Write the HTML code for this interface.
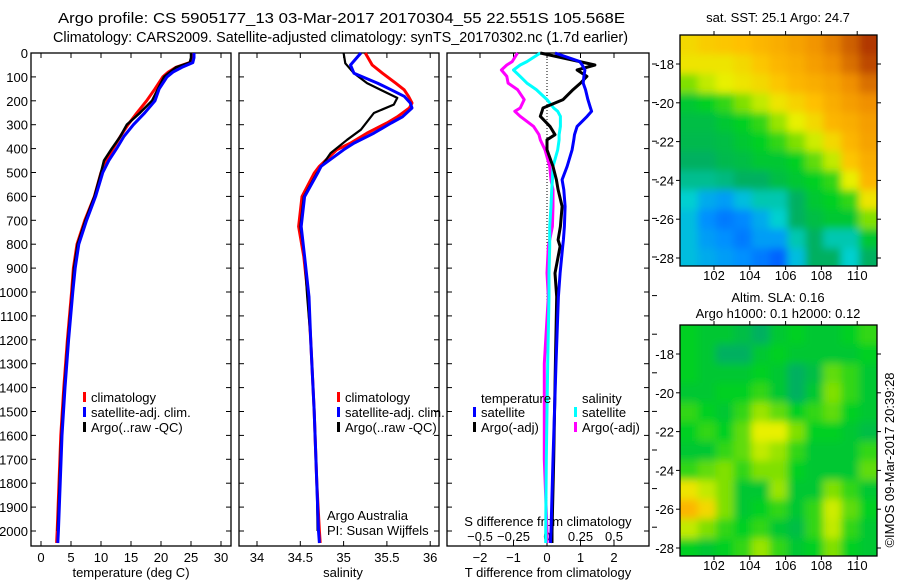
<!DOCTYPE html>
<html><head><meta charset="utf-8"><style>
html,body{margin:0;padding:0;background:#fff;}
svg{display:block;font-family:"Liberation Sans",sans-serif;}
text{font-size:13px;fill:#000;}
</style></head><body>
<svg id="s" width="900" height="580" viewBox="0 0 900 580" xmlns="http://www.w3.org/2000/svg">
<rect width="900" height="580" fill="#fff"/>
<defs>
<clipPath id="c1"><rect x="680" y="35" width="197" height="231"/></clipPath>
<clipPath id="c2"><rect x="680" y="325" width="197" height="231"/></clipPath>
<filter id="bl" x="-5%" y="-5%" width="110%" height="110%"><feGaussianBlur stdDeviation="4"/></filter>
</defs>
<text x="58" y="23" textLength="567" lengthAdjust="spacingAndGlyphs" style="font-size:15px">Argo profile: CS 5905177_13 03-Mar-2017 20170304_55 22.551S 105.568E</text>
<text x="53" y="42" textLength="575" lengthAdjust="spacingAndGlyphs" style="font-size:15px">Climatology: CARS2009. Satellite-adjusted climatology: synTS_20170302.nc (1.7d earlier)</text>
<g id="g"></g>
</svg>
<script>
// ---- data ----
const depths=[0,20,40,60,80,100,150,200,250,300,350,400,450,500,600,700,800,900,1000,1200,1400,1600,1800,2000,2050];
const tempClim=[25.2,25.2,24.8,22.5,21.2,20.3,19,17.6,16,14.5,13.2,12,10.8,10,8.9,7.3,6,5.4,5.1,4.4,3.8,3.3,3.0,2.7,2.6];
const tempSat=[25.5,25.5,25.3,23.5,22,21,19.7,19,17.3,15.4,13.8,12.6,11.3,10.3,9.1,7.6,6.3,5.7,5.3,4.6,4.0,3.5,3.2,2.9,2.8];
const tempArgo=[25,25,24.8,22.5,21.5,20.5,19.5,18.5,16.5,14.3,13.2,11.8,10.5,10,8.9,7.4,6.1,5.5,5.2,4.5,3.9,3.4,3.1,2.8,2.8];
const salDepths=[0,50,85,126,154,181,209,230,267,293,335,377,405,474,503,601,726,852,1020,1200,1500,1800,2000,2050];
const salClim=[35.25,35.33,35.45,35.6,35.70,35.75,35.79,35.76,35.62,35.5,35.27,35.08,34.92,34.72,34.66,34.52,34.48,34.54,34.59,34.62,34.66,34.69,34.72,34.73];
const salSat=[35.20,35.08,35.12,35.39,35.55,35.70,35.77,35.79,35.68,35.55,35.35,35.12,35.0,34.74,34.7,34.55,34.51,34.55,34.60,34.62,34.66,34.69,34.71,34.72];
const salArgoDepths=[0,43,85,126,167,188,216,251,321,363,419,503,601,726,852,1020,1200,1500,1800,2000];
const salArgo=[35.0,35.02,35.12,35.27,35.50,35.62,35.58,35.35,35.20,35.04,34.85,34.69,34.54,34.50,34.55,34.58,34.62,34.66,34.69,34.70];
const diffDepths=[0,36,50,71,98,126,153,195,230,244,265,307,342,363,405,475,530,572,642,726,782,809,921,1020,1300,1700,2000,2050];
const tDiffSat=[0.24,0.98,1.05,1.13,1.1,1.08,1.15,1.22,1.3,1.33,1.2,0.9,0.82,0.8,0.75,0.6,0.45,0.5,0.54,0.52,0.49,0.47,0.39,0.34,0.27,0.18,0.12,0.1];
const tDiffArgo=[-0.2,0.98,1.43,0.9,1.19,1.0,0.78,0.48,-0.12,-0.15,-0.2,0.09,0.24,0.0,0.0,0.18,0.28,0.33,0.45,0.4,0.33,0.39,0.24,0.29,0.25,0.2,0.15,0.15];
const sDiffSat=[-0.05,-0.15,-0.2,-0.25,-0.2,-0.15,-0.08,0.0,0.05,0.08,0.1,0.1,0.09,0.09,0.08,0.045,0.04,0.035,0.03,0.02,0.02,0.02,0.015,0.015,0.005,-0.005,-0.01,-0.01];
const sDiffArgo=[-0.22,-0.26,-0.3,-0.34,-0.3,-0.29,-0.22,-0.17,-0.2,-0.24,-0.2,-0.1,-0.06,-0.05,-0.015,0.02,0.03,0.045,0.045,0.04,0.02,0.01,0.0,0.01,-0.02,-0.02,0.0,0.0];
const depthTicks=[0,100,200,300,400,500,600,700,800,900,1000,1100,1200,1300,1400,1500,1600,1700,1800,1900,2000];
const tempTicks=[0,5,10,15,20,25,30];
const salTicks=[34,34.5,35,35.5,36];
const tDiffTicks=[-2,-1,0,1,2];
const sDiffTicks=[-0.5,-0.25,0,0.25,0.5];
const lonTicks=[102,104,106,108,110];
const latTicks=[18,20,22,24,26,28];
const lonCells=[100.1,101.1,102.1,103.1,104.1,105.1,106.1,107.1,108.1,109.1,110.1];
const latCells=[16.5,17.5,18.5,19.5,20.5,21.5,22.5,23.5,24.5,25.5,26.5,27.5];
const sstGrid=[
[.72,.74,.75,.76,.78,.8,.82,.85,.88,.92,.97],
[.7,.7,.7,.72,.75,.78,.8,.83,.86,.9,.95],
[.6,.65,.68,.7,.72,.75,.78,.8,.82,.86,.9],
[.5,.52,.55,.6,.65,.7,.73,.76,.8,.83,.86],
[.48,.48,.5,.52,.55,.62,.68,.72,.78,.8,.83],
[.47,.47,.48,.5,.52,.55,.6,.66,.72,.78,.82],
[.45,.45,.47,.48,.5,.5,.52,.58,.65,.75,.8],
[.42,.42,.43,.45,.45,.48,.5,.52,.55,.68,.78],
[.38,.32,.3,.35,.4,.4,.45,.5,.52,.55,.7],
[.35,.28,.25,.27,.32,.38,.45,.48,.5,.5,.6],
[.35,.3,.28,.25,.3,.3,.4,.45,.4,.4,.5],
[.35,.32,.3,.28,.25,.22,.35,.45,.45,.38,.45]];
const slaGrid=[
[.52,.5,.5,.48,.45,.5,.52,.5,.5,.52,.55],
[.52,.5,.45,.45,.5,.52,.5,.5,.5,.5,.52],
[.52,.5,.5,.5,.52,.5,.45,.48,.58,.55,.5],
[.5,.5,.52,.52,.55,.5,.45,.5,.6,.55,.5],
[.55,.52,.5,.55,.62,.58,.52,.55,.58,.52,.5],
[.52,.55,.52,.58,.68,.68,.6,.52,.52,.5,.48],
[.5,.5,.55,.58,.65,.62,.55,.5,.5,.5,.55],
[.55,.58,.6,.55,.6,.6,.52,.5,.5,.5,.58],
[.7,.65,.6,.5,.5,.62,.5,.5,.6,.55,.5],
[.78,.72,.6,.5,.52,.55,.5,.55,.66,.58,.52],
[.65,.6,.55,.52,.55,.5,.48,.55,.65,.55,.5],
[.52,.5,.52,.55,.62,.55,.5,.52,.6,.52,.5]];

// ---- axes ----
const yD=d=>53+d*0.239;
const xT=t=>41+t*6;
const xS=s=>257+(s-34)*86.6;
const xTd=v=>547+v*33.5;
const xSd=v=>547+v*134;
const xLon=l=>714+(l-102)*17.9;
const yLat1=l=>64+(l-18)*19.4;
const yLat2=l=>354+(l-18)*19.4;

const NS='http://www.w3.org/2000/svg';
const G=document.getElementById('g');
function mk(tag,attrs,parent){const e=document.createElementNS(NS,tag);for(const k in attrs)e.setAttribute(k,attrs[k]);(parent||G).appendChild(e);return e;}
function txt(x,y,s,anchor,name){const e=mk('text',{x:x,y:y,'text-anchor':anchor||'start'});e.textContent=s;


return e;}

const panels=[[31,231],[239,439],[447,649]];
const yTop=53,yBot=546;
panels.forEach((p,i)=>{
 const r=mk('rect',{x:p[0],y:yTop,width:p[1]-p[0],height:yBot-yTop,fill:'none',stroke:'#000','stroke-width':1.3});
 
 
 depthTicks.forEach(d=>{
  mk('line',{x1:p[0],x2:p[0]+5,y1:yD(d),y2:yD(d),stroke:'#000'});
  mk('line',{x1:p[1],x2:p[1]-5,y1:yD(d),y2:yD(d),stroke:'#000'});
 });
});
depthTicks.forEach(d=>{txt(28,yD(d)+5,String(d),'end','y-tick-label');});
for(let k=0;k<13;k++){mk('line',{x1:652,x2:657,y1:64+k*38.6,y2:64+k*38.6,stroke:'#000'});}
function xticks(vals,fx,labY,fmt,name){
 vals.forEach(v=>{const x=fx(v);
  mk('line',{x1:x,x2:x,y1:yBot,y2:yBot-5,stroke:'#000'});
  mk('line',{x1:x,x2:x,y1:yTop,y2:yTop+5,stroke:'#000'});
  if(labY)txt(x,labY,fmt(v),'middle',name);
 });
}
xticks(tempTicks,xT,562,v=>String(v),'temperature-tick-label');
xticks(salTicks,xS,562,v=>String(v),'salinity-tick-label');
xticks(tDiffTicks,xTd,562,v=>v<0?'\u2212'+(-v):String(v),'t-diff-tick-label');
sDiffTicks.forEach(v=>{txt(xSd(v),541,v<0?'\u2212'+(-v):String(v),'middle','s-diff-tick-label');});
txt(131,577,'temperature (deg C)','middle','x-axis-title-temperature');
txt(343,577,'salinity','middle','x-axis-title-salinity');
txt(548,577,'T difference from climatology','middle','x-axis-title-t-diff');
txt(548,526,'S difference from climatology','middle','axis-title-s-diff');
txt(327,520,'Argo Australia','start','credit-argo-australia');
txt(327,535,'PI: Susan Wijffels','start','credit-pi');

const zl=mk('line',{x1:xTd(0),x2:xTd(0),y1:yTop,y2:yBot,stroke:'#000','stroke-dasharray':'1,2'});



function series(ds,vs,fx,color,w,name){
 const pts=ds.map((d,i)=>fx(vs[i]).toFixed(1)+','+yD(d).toFixed(1)).join(' ');
 const e=mk('polyline',{points:pts,fill:'none',stroke:color,'stroke-width':w,'stroke-linejoin':'round'});
 
 
}
series(depths,tempClim,xT,'#f00',3,'temp-climatology-line');
series(depths.slice(0,24),tempArgo.slice(0,24),xT,'#000',2.5,'temp-argo-line');
series(depths,tempSat,xT,'#00f',3,'temp-satellite-line');
series(salDepths,salClim,xS,'#f00',3,'sal-climatology-line');
series(salArgoDepths,salArgo,xS,'#000',2.2,'sal-argo-line');
series(salDepths,salSat,xS,'#00f',3,'sal-satellite-line');
series(diffDepths,sDiffArgo,xSd,'#f0f',3,'s-diff-argo-line');
series(diffDepths,sDiffSat,xSd,'#0ff',3,'s-diff-satellite-line');
series(diffDepths,tDiffArgo,xTd,'#000',3,'t-diff-argo-line');
series(diffDepths,tDiffSat,xTd,'#00f',3,'t-diff-satellite-line');

function legend(x,y,color,label,name){
 const r=mk('rect',{x:x,y:y-6,width:3,height:10,fill:color});
 
 
 txt(x+8,y+4,label,'start',name);
}
legend(83,398,'#f00','climatology','legend-climatology');
legend(83,413,'#00f','satellite-adj. clim.','legend-satellite-adj');
legend(83,428,'#000','Argo(..raw -QC)','legend-argo');
legend(337,398,'#f00','climatology','legend-sal-climatology');
legend(337,413,'#00f','satellite-adj. clim.','legend-sal-satellite-adj');
legend(337,428,'#000','Argo(..raw -QC)','legend-sal-argo');
txt(481,403,'temperature','start','legend-title-temperature');
legend(473,413,'#00f','satellite','legend-t-satellite');
legend(473,428,'#000','Argo(-adj)','legend-t-argo');
txt(582,403,'salinity','start','legend-title-salinity');
legend(574,413,'#0ff','satellite','legend-s-satellite');
legend(574,428,'#f0f','Argo(-adj)','legend-s-argo');

// ---- maps ----
const stops=[[0,[0,0,128]],[.15,[0,48,255]],[.28,[0,144,255]],[.38,[0,208,208]],[.45,[0,176,96]],[.52,[0,208,32]],[.6,[128,224,0]],[.68,[232,240,0]],[.76,[255,192,0]],[.86,[240,144,0]],[1,[160,32,0]]];
function cmap(v){for(let i=1;i<stops.length;i++){if(v<=stops[i][0]){const a=stops[i-1],b=stops[i],t=(v-a[0])/(b[0]-a[0]);return 'rgb('+a[1].map((c,k)=>Math.round(c+(b[1][k]-c)*t)).join(',')+')';}}return 'rgb(160,32,0)';}
function map(grid,yLat,clip,y0,name){
 const g=mk('g',{'clip-path':'url(#'+clip+')'});
 const inner=mk('g',{filter:'url(#bl)'},g);
 grid.forEach((row,r)=>row.forEach((v,c)=>{
  const x1=xLon(lonCells[c]),x2=xLon(lonCells[c]+1),y1=yLat(latCells[r]),y2=yLat(latCells[r]+1);
  const e=mk('rect',{x:(c==0?x1-12:x1).toFixed(1),y:(r==0?y1-12:y1).toFixed(1),width:(x2-x1+(c==0||c==row.length-1?12:0)+0.6).toFixed(1),height:(y2-y1+(r==0||r==grid.length-1?12:0)+0.6).toFixed(1),fill:cmap(v)},inner);
  
  
 }));
 const f=mk('rect',{x:680,y:y0,width:197,height:231,fill:'none',stroke:'#000','stroke-width':1.3});
 
 
 lonTicks.forEach(l=>{const x=xLon(l);
  mk('line',{x1:x,x2:x,y1:y0,y2:y0-4,stroke:'#000'});
  mk('line',{x1:x,x2:x,y1:y0+231,y2:y0+235,stroke:'#000'});
  txt(x,y0+245,String(l),'middle',name+'-lon-label');
 });
 latTicks.forEach(l=>{const y=yLat(l);
  mk('line',{x1:680,x2:676,y1:y,y2:y,stroke:'#000'});
  mk('line',{x1:877,x2:881,y1:y,y2:y,stroke:'#000'});
  txt(674,y+5,'-'+l,'end',name+'-lat-label');
 });
}
map(sstGrid,yLat1,'c1',35,'sst-map');
map(slaGrid,yLat2,'c2',325,'sla-map');
txt(778,22,'sat. SST: 25.1 Argo: 24.7','middle','sst-map-title');
txt(778,302,'Altim. SLA: 0.16','middle','sla-map-title-1');
txt(778,318,'Argo h1000: 0.1 h2000: 0.12','middle','sla-map-title-2');
const cp=txt(0,0,'\u00A9IMOS 09-Mar-2017 20:39:28','middle','copyright-timestamp');
cp.setAttribute('transform','translate(894,460) rotate(-90)');
</script>
</body></html>
